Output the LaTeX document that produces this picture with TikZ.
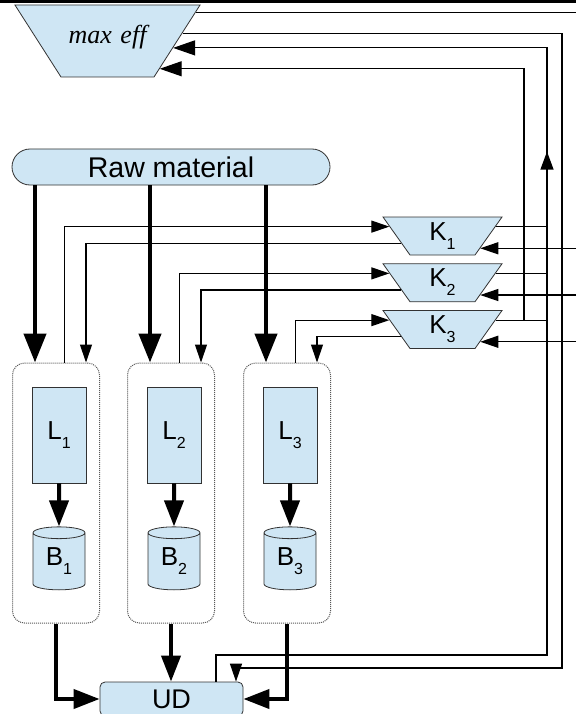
\documentclass[tikz,border=0pt]{standalone}
\usepackage{fontspec}
\setmainfont{Liberation Sans}
\newfontfamily\timesit{Liberation Serif}
\usetikzlibrary{shapes.geometric, arrows.meta, positioning, calc, decorations.markings}
\definecolor{paleblue}{RGB}{207,230,244}
\definecolor{edgegray}{RGB}{50,50,50}
\newcommand{\idx}[1]{\raisebox{-9pt}{\fontsize{16}{16}\selectfont #1}}

\begin{document}
\begin{tikzpicture}[
  x=1pt, y=-1pt,
  font=\fontsize{26}{30}\selectfont,
  unita/.style={draw=edgegray, fill=paleblue, line width=0.8pt, inner sep=0pt, align=center},
  linea/.style={unita, minimum width=54pt, minimum height=96pt},
  buffer/.style={unita, cylinder, shape border rotate=90, aspect=0.45,
                 minimum width=52pt, minimum height=63pt},
  ctrl/.style={unita, trapezium, shape border rotate=180, trapezium angle=54.6,
               text width=57pt, inner xsep=4pt, text height=18pt, text depth=10pt, inner ysep=5pt},
  gruppo/.style={draw=black!65, densely dotted, line width=1pt, rounded corners=12pt,
                 minimum width=87pt, minimum height=260pt},
  punta/.style={-{Triangle[length=18pt,width=12pt]}},
  flusso/.style={line width=4.5pt, -{Triangle[length=29pt,width=22pt]}},
  carico/.style={line width=4pt, -{Triangle[length=26pt,width=19pt]}},
  filo/.style={line width=1.2pt},
  segnale/.style={filo, punta},
  ritorno/.style={filo, -{Triangle[length=22pt,width=15pt]}}
]
\useasboundingbox (0,0) rectangle (576,714);
\draw[line width=3pt] (0,1.5) -- (576,1.5);

\coordinate (kbus)  at (524,0);
\coordinate (upbus) at (547,0);
\coordinate (bordo) at (576,0);
\coordinate (angoloA) at (547,655);
\coordinate (angoloB) at (562,668);

\node[unita, trapezium, shape border rotate=180, trapezium angle=57.4,
      text width=85pt, inner xsep=4pt, text height=14pt, text depth=8pt, inner ysep=25pt,
      font={\timesit\itshape\fontsize{26}{30}\selectfont}] (eff) at (107.5,41) {max eff};
\node[unita, rounded corners=18pt, minimum width=318pt, minimum height=36pt,
      font=\fontsize{28.5}{30}\selectfont] (raw) at (171,167) {Raw material};
\node[unita, rounded corners=5pt, minimum width=143pt, minimum height=34pt,
      font=\fontsize{27}{30}\selectfont] (UD) at (171.5,699) {UD};

\foreach \i/\x/\ky in {1/56/236, 2/171/282.75, 3/287/329.5} {
  \node[gruppo] (G\i) at (\x,493) {};
  \node[linea]  (L\i) at (\x+3,435) {L\idx{\i}};
  \node[buffer] (B\i) at (\x+3,561.5) {B\idx{\i}};
  \node[ctrl]   (K\i) at (442.5,\ky) {K\idx{\i}};
  \draw[flusso] ([xshift=-21pt]G\i.north |- raw.south) -- ([xshift=-21pt]G\i.north);
  \draw[carico] (L\i) -- (B\i);
  \draw[segnale] ([xshift=8.5pt]G\i.north) |- (K\i.170);
  \draw[segnale] (K\i.190) -| ([xshift=30pt]G\i.north);
  \draw[filo] (K\i.10) -- (K\i.10 -| upbus);
  \draw[segnale] (K\i.-18 -| bordo) -- (K\i.-18);
}

% uscite verso UD
\draw[carico] (G1.south) |- (UD.west);
\draw[carico] (G2.south) -- (G2.south |- UD.north);
\draw[carico] (G3.south) |- (UD.east);

% anelli esterni
\draw[filo] (eff.18) -- (eff.18 -| bordo);
\draw[ritorno] (K3.10 -| kbus) |- (eff.-28);
\draw[ritorno, postaction=decorate,
      decoration={markings, mark=at position 861pt with {\arrow{Triangle[length=18pt,width=13pt]}}}]
  ([xshift=44.5pt]UD.north) |- (angoloA) |- (eff.-6);
\draw[segnale] (eff.6) -| (angoloB) -| ([xshift=64.5pt]UD.north);

\end{tikzpicture}
\end{document}
